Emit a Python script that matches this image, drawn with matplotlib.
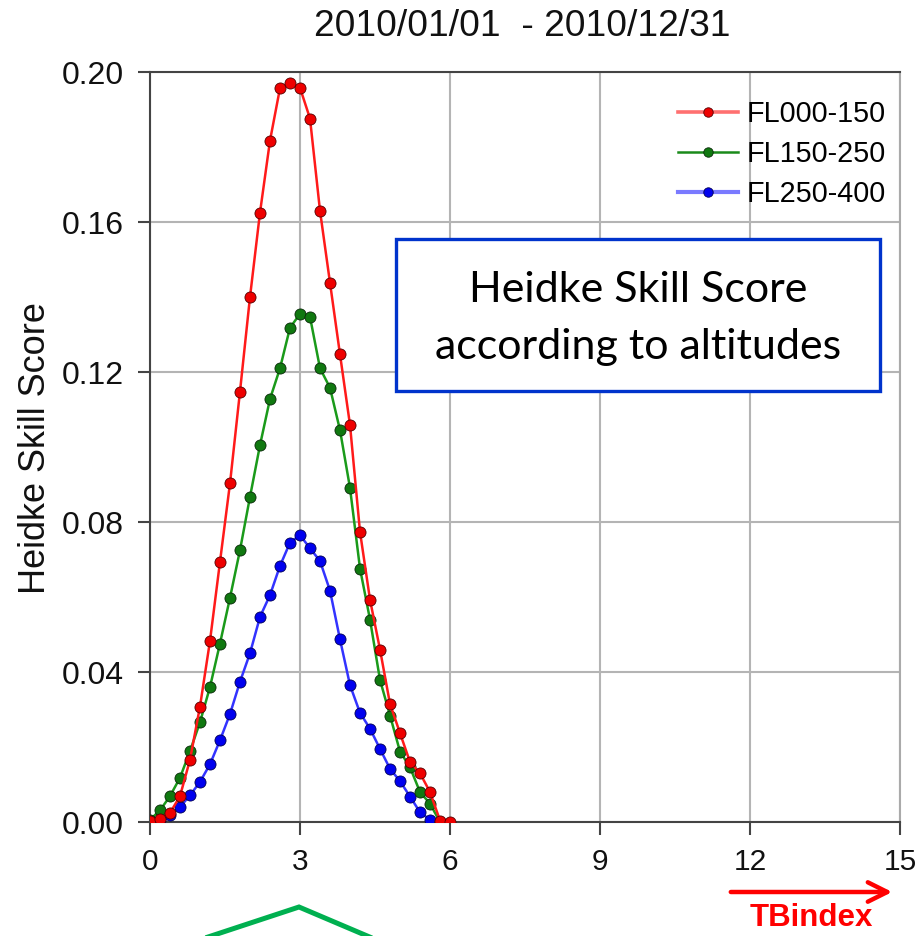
import matplotlib
matplotlib.use("Agg")
import matplotlib.pyplot as plt
from matplotlib.patches import Rectangle, FancyArrowPatch
from matplotlib.lines import Line2D

# ---------------- data ----------------
x_red = [0.0, 0.2, 0.4, 0.6, 0.8, 1.0, 1.2, 1.4, 1.6, 1.8, 2.0, 2.2, 2.4, 2.6, 2.8,
         3.0, 3.2, 3.4, 3.6, 3.8, 4.0, 4.2, 4.4, 4.6, 4.8, 5.0, 5.2, 5.4, 5.6, 5.8, 6.0]
fl000_150 = [0.0004, 0.0009, 0.0024, 0.0069, 0.0166, 0.0308, 0.0483, 0.0694, 0.0903,
             0.1148, 0.1400, 0.1625, 0.1817, 0.1957, 0.1970, 0.1958, 0.1876, 0.1630,
             0.1438, 0.1247, 0.1059, 0.0774, 0.0593, 0.0460, 0.0315, 0.0237, 0.0160,
             0.0130, 0.0080, 0.0004, 0.0000]

x_green = [0.0, 0.2, 0.4, 0.6, 0.8, 1.0, 1.2, 1.4, 1.6, 1.8, 2.0, 2.2, 2.4, 2.6, 2.8,
           3.0, 3.2, 3.4, 3.6, 3.8, 4.0, 4.2, 4.4, 4.6, 4.8, 5.0, 5.2, 5.4, 5.6, 5.8]
fl150_250 = [0.0006, 0.0031, 0.0069, 0.0118, 0.0189, 0.0266, 0.0360, 0.0476, 0.0598,
             0.0725, 0.0867, 0.1005, 0.1128, 0.1210, 0.1318, 0.1355, 0.1347, 0.1210,
             0.1158, 0.1045, 0.0891, 0.0676, 0.0540, 0.0379, 0.0284, 0.0188, 0.0146,
             0.0080, 0.0049, 0.0000]

x_blue = [0.0, 0.2, 0.4, 0.6, 0.8, 1.0, 1.2, 1.4, 1.6, 1.8, 2.0, 2.2, 2.4, 2.6, 2.8,
          3.0, 3.2, 3.4, 3.6, 3.8, 4.0, 4.2, 4.4, 4.6, 4.8, 5.0, 5.2, 5.4, 5.6]
fl250_400 = [0.0000, 0.0005, 0.0018, 0.0040, 0.0071, 0.0107, 0.0154, 0.0218, 0.0288,
             0.0374, 0.0450, 0.0547, 0.0605, 0.0683, 0.0745, 0.0765, 0.0730, 0.0696,
             0.0617, 0.0487, 0.0365, 0.0291, 0.0249, 0.0195, 0.0142, 0.0109, 0.0068,
             0.0026, 0.0006]

series_labels = ["FL000-150", "FL150-250", "FL250-400"]
x_ticks = [0, 3, 6, 9, 12, 15]
y_ticks = [0.00, 0.04, 0.08, 0.12, 0.16, 0.20]
title_text = "2010/01/01  - 2010/12/31"
ylabel_text = "Heidke Skill Score"
box_lines = ["Heidke Skill Score", "according to altitudes"]
arrow_label = "TBindex"

# ---------------- figure ----------------
W, H = 923, 936
fig = plt.figure(figsize=(W / 100, H / 100), dpi=100)
fig.patch.set_facecolor("white")

def fx(px):
    return px / W

def fy(py):
    return 1 - py / H

ax = fig.add_axes([fx(150), fy(822), (900 - 150) / W, (822 - 72) / H])

ax.plot(x_red, fl000_150, color="#ff1a1a", lw=1.8, marker="o", ms=8,
        mfc="#ee0000", mec="#550000", mew=0.6, label=series_labels[0], zorder=5)
ax.plot(x_green, fl150_250, color="#1a9a1a", lw=1.8, marker="o", ms=8,
        mfc="#107810", mec="#0a2a0a", mew=0.6, label=series_labels[1], zorder=4)
ax.plot(x_blue, fl250_400, color="#3333ff", lw=1.8, marker="o", ms=8,
        mfc="#0000ee", mec="#000055", mew=0.6, label=series_labels[2], zorder=3)

ax.set_xlim(0, 15)
ax.set_ylim(0, 0.20)
ax.set_xticks(x_ticks)
ax.set_yticks(y_ticks)
ax.set_xticklabels([str(t) for t in x_ticks])
ax.set_yticklabels([f"{t:.2f}" for t in y_ticks])
ax.grid(True, color="#b4b4b4", lw=1.5, zorder=0)
ax.set_axisbelow(True)
for s in ax.spines.values():
    s.set_color("#444444")
    s.set_linewidth(1.5)
ax.spines["right"].set_color("#aaaaaa")
ax.tick_params(axis="both", direction="out", length=9, width=1.5, color="#444444",
               pad=10, labelcolor="#111111")
ax.tick_params(axis="x", labelsize=21.5)
ax.tick_params(axis="y", labelsize=23)
for lab in ax.get_xticklabels() + ax.get_yticklabels():
    lab.set_family("Liberation Sans")

leg = ax.legend(loc="upper left", bbox_to_anchor=((678 - 150) / 750, (822 - 100) / 750),
                frameon=False,
                prop={"family": "Liberation Sans", "size": 20.7},
                handlelength=2.09, handletextpad=0.28, labelspacing=0.42,
                borderpad=0.0, borderaxespad=0.0, markerscale=0.85)
legend_line_styles = [("#ff7070", 2.6), ("#1a8a1a", 1.8), ("#7a7aff", 3.0)]
for hl, (c, w) in zip(leg.get_lines(), legend_line_styles):
    hl.set_color(c)
    hl.set_linewidth(w)

# title and y label
fig.text(fx(522), fy(26), title_text, ha="center", va="center",
         family="Liberation Sans", fontsize=26.7, color="#111111")
fig.text(fx(36), fy(448), ylabel_text, ha="center", va="center", rotation=90,
         family="Liberation Sans", fontsize=26, color="#111111")

# annotation box
fig.add_artist(Rectangle((fx(396), fy(391)), (880 - 396) / W, (391 - 239) / H,
                         transform=fig.transFigure, facecolor="white",
                         edgecolor="#0033cc", lw=2.4, zorder=10))
fig.text(fx(638), fy(302), box_lines[0], ha="center", va="baseline",
         family="Lato", fontsize=31, color="black", zorder=11)
fig.text(fx(638), fy(359), box_lines[1], ha="center", va="baseline",
         family="Lato", fontsize=31, color="black", zorder=11)

# red arrow and TBindex label
fig.add_artist(FancyArrowPatch((fx(728), fy(892)), (fx(895), fy(892)),
                               transform=fig.transFigure,
                               arrowstyle="->,head_length=14,head_width=7",
                               mutation_scale=1, color="#ff0000", lw=3.2))
fig.text(fx(811), fy(918), arrow_label, ha="center", va="center",
         family="Liberation Sans", fontweight="bold", fontsize=22.5, color="#ff0000")

# green chevron (partially cut off at the bottom)
fig.add_artist(Line2D([fx(205), fx(299), fx(372)], [fy(938), fy(907), fy(938)],
                      transform=fig.transFigure, color="#00b050", lw=3.6,
                      solid_joinstyle="miter"))

fig.savefig("out.png", dpi=100)
